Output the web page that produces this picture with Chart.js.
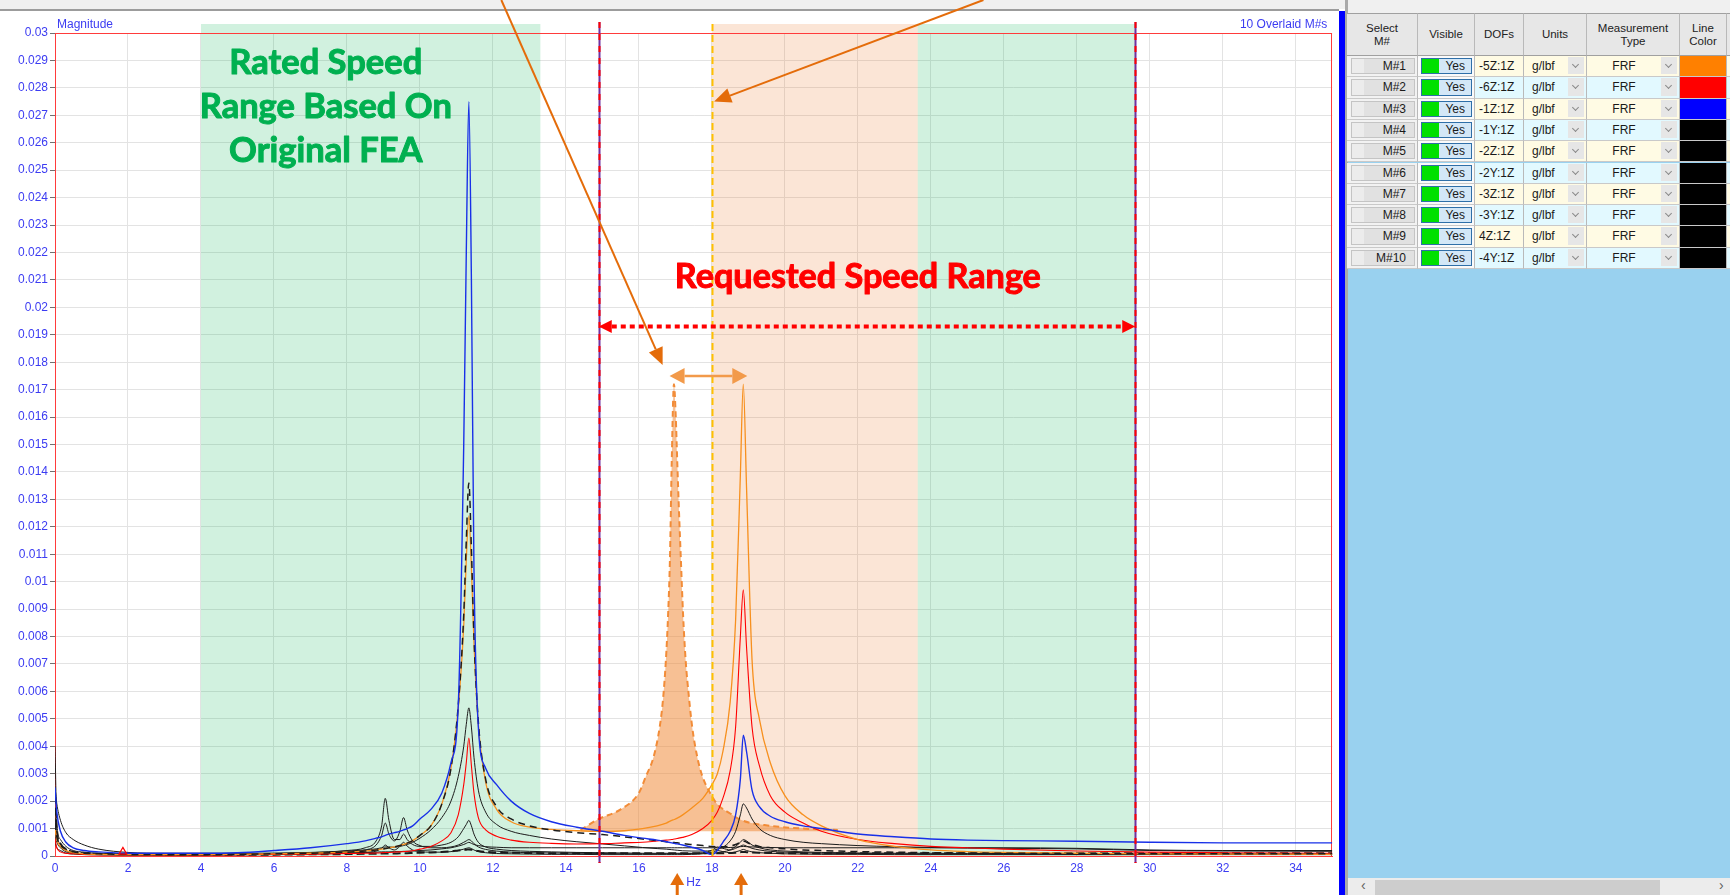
<!DOCTYPE html>
<html lang="en">
<head>
<meta charset="utf-8">
<title>FRF Overlay – Speed Ranges</title>
<script src="https://cdn.jsdelivr.net/npm/chart.js@4.4.1/dist/chart.umd.min.js"></script>
<style>
  html, body { margin: 0; padding: 0; }
  body { width: 1730px; height: 895px; overflow: hidden; position: relative; background: #fff;
         font-family: "Liberation Sans", Arial, sans-serif; }
  .abs { position: absolute; box-sizing: border-box; }
  #topStrip { left: 0; top: 0; width: 1348px; height: 9px; background: #f0f0f0; }
  #topRule { left: 0; top: 9px; width: 1339px; height: 2px; background: #9c9c9c; }
  #plot { position: absolute; left: 0; top: 0; }
  #blueBar { left: 1339px; top: 11px; width: 6px; height: 884px; background: #0000ff; }
  #splitter { left: 1345px; top: 0; width: 3px; height: 895px; background: #a9a9a9; }
  #panel { left: 1348px; top: 0; width: 382px; height: 895px; background: #99d1ef; }
  #panelTop { left: 1348px; top: 0; width: 382px; height: 13px; background: #f0f0f0; }
  .cell { position: absolute; box-sizing: border-box; border-right: 1px solid #b9b9b9; border-bottom: 1px solid #c9c9c9;
          font-size: 12px; color: #1a1a1a; overflow: hidden; white-space: nowrap; }
  .hdr { background: #e7e7e7; display: flex; align-items: center; justify-content: center; text-align: center;
         font-size: 11.5px; line-height: 13px; color: #222; border-top: 1px solid #a0a0a0; border-bottom: 1px solid #a0a0a0; }
  .btn { position: absolute; left: 4px; right: 2px; top: 2px; bottom: 2px; background: #e1e1e1; border: 1px solid #c4c4c4;
         text-align: right; padding-right: 8px; line-height: 15px; }
  .btn::before { content: ""; position: absolute; left: 0; top: 0; bottom: 0; width: 12px; background: #ececec; }
  .vis { position: absolute; left: 3px; right: 2px; top: 2px; bottom: 2px; background: #d3e7f7; border: 1px solid #2f6fa8;
         text-align: right; padding-right: 6px; line-height: 15px; }
  .vis span.on { position: absolute; left: 0; top: 0; bottom: 0; width: 17px; background: #00e000; }
  .txt { position: absolute; top: 0; bottom: 0; line-height: 20px; }
  .dd { position: absolute; right: 2px; top: 1px; bottom: 2px; width: 16px; background: #e6e6e6; }
  .dd::after { content: ""; position: absolute; left: 5px; top: 5px; width: 4px; height: 4px;
               border-right: 1px solid #8a8a8a; border-bottom: 1px solid #8a8a8a; transform: rotate(45deg); }
  #scroll { left: 1348px; top: 878px; width: 382px; height: 17px; background: #ececec; }
  #thumb { left: 1375px; top: 880px; width: 285px; height: 15px; background: #cdcdcd; }
  .arr { position: absolute; top: 877px; font-size: 14px; color: #606060; line-height: 17px; }
</style>
</head>
<body>
<div id="topStrip" class="abs"></div>
<div id="topRule" class="abs"></div>
<canvas id="plot" width="1338" height="895"></canvas>
<div id="blueBar" class="abs"></div>
<div id="splitter" class="abs"></div>
<div id="panel" class="abs"></div>
<div id="panelTop" class="abs"></div>
<div id="table"></div>
<div id="scroll" class="abs"></div>
<div id="thumb" class="abs"></div>
<div class="arr" style="left:1361px">&lsaquo;</div>
<div class="arr" style="left:1719px">&rsaquo;</div>

<script>
// ---------------------------------------------------------------
// Measured FRF magnitudes, in units of 1e-3 g/lbf
// ---------------------------------------------------------------
const MILLI = 1e-3;

const freqHz = [
  0, 0.05, 0.15, 0.3, 0.5, 0.8, 1.2, 2, 3, 4, 5, 6, 7, 8, 8.5,
  8.8, 8.95, 9.05, 9.15, 9.3, 9.45, 9.55, 9.65, 9.8, 10, 10.3, 10.6, 10.85, 11.05, 11.2,
  11.27, 11.34, 11.41, 11.48, 11.6, 11.8, 12.1, 12.5, 13, 13.6, 14.3, 15, 15.6, 16.1, 16.5,
  16.75, 16.9, 16.97, 17.05, 17.2, 17.45, 17.75, 18, 18.15, 18.3, 18.5, 18.65, 18.78, 18.86, 18.95,
  19.1, 19.3, 19.6, 20, 20.5, 21, 22, 23, 24, 25, 26, 28, 30, 32, 35
];

const magM1 = [
  1.0, 0.6, 0.35, 0.2, 0.12, 0.08, 0.06, 0.05, 0.05, 0.05, 0.06, 0.08, 0.1, 0.14, 0.18,
  0.22, 0.25, 0.27, 0.3, 0.33, 0.38, 0.42, 0.47, 0.56, 0.75, 1.1, 1.9, 3.2, 5.4, 8.4,
  10.8, 12.4, 10.5, 7.8, 4.8, 2.7, 1.7, 1.25, 1.05, 0.97, 0.92, 0.9, 0.92, 1.0, 1.1,
  1.2, 1.3, 1.33, 1.38, 1.5, 1.75, 2.1, 2.6, 3.0, 3.8, 5.6, 8.6, 13.9, 17.2, 13.4,
  7.15, 5.0, 3.4, 2.2, 1.5, 1.1, 0.6, 0.35, 0.22, 0.16, 0.13, 0.1, 0.08, 0.07, 0.06
];
const magM2 = [
  0.6, 0.3, 0.15, 0.1, 0.08, 0.06, 0.05, 0.05, 0.05, 0.05, 0.05, 0.06, 0.07, 0.09, 0.1,
  0.11, 0.12, 0.13, 0.13, 0.14, 0.15, 0.16, 0.17, 0.19, 0.25, 0.35, 0.55, 0.85, 1.5, 2.6,
  3.4, 4.3, 3.3, 2.3, 1.4, 0.95, 0.72, 0.58, 0.5, 0.46, 0.44, 0.45, 0.48, 0.5, 0.55,
  0.58, 0.6, 0.62, 0.64, 0.68, 0.78, 1.0, 1.3, 1.6, 2.1, 3.1, 4.7, 8.0, 9.7, 7.6,
  4.7, 3.3, 2.2, 1.6, 1.2, 0.9, 0.6, 0.45, 0.35, 0.3, 0.25, 0.18, 0.14, 0.12, 0.1
];
const magM3 = [
  2.5, 1.6, 0.9, 0.5, 0.3, 0.2, 0.15, 0.1, 0.1, 0.1, 0.12, 0.2, 0.3, 0.45, 0.55,
  0.65, 0.7, 0.75, 0.8, 0.85, 0.9, 0.95, 1.0, 1.1, 1.35, 1.7, 2.3, 3.4, 5.5, 15,
  22, 27.5, 21, 10.5, 4.7, 3.2, 2.6, 2.0, 1.55, 1.25, 1.05, 0.9, 0.75, 0.65, 0.58,
  0.52, 0.48, 0.46, 0.44, 0.4, 0.32, 0.2, 0.05, 0.2, 0.5, 0.9, 1.5, 2.8, 4.4, 3.8,
  2.4, 1.8, 1.45, 1.25, 1.1, 1.0, 0.8, 0.7, 0.62, 0.58, 0.56, 0.54, 0.5, 0.48, 0.48
];
const magM4 = [
  1.2, 0.7, 0.4, 0.25, 0.15, 0.1, 0.08, 0.06, 0.05, 0.05, 0.06, 0.08, 0.1, 0.14, 0.18,
  0.22, 0.25, 0.27, 0.3, 0.33, 0.38, 0.42, 0.47, 0.56, 0.75, 1.1, 1.9, 3.2, 5.5, 8.8,
  11.5, 13.6, 11.2, 8.0, 4.9, 2.8, 1.8, 1.35, 1.1, 0.95, 0.85, 0.78, 0.7, 0.62, 0.56,
  0.52, 0.5, 0.49, 0.48, 0.45, 0.42, 0.38, 0.35, 0.34, 0.34, 0.36, 0.42, 0.5, 0.55, 0.5,
  0.42, 0.35, 0.3, 0.26, 0.22, 0.2, 0.16, 0.14, 0.12, 0.11, 0.1, 0.09, 0.08, 0.08, 0.08
];
const magM5 = [
  4.0, 1.2, 0.6, 0.35, 0.2, 0.14, 0.1, 0.08, 0.07, 0.07, 0.08, 0.1, 0.13, 0.18, 0.22,
  0.26, 0.3, 0.33, 0.33, 0.32, 0.35, 0.38, 0.42, 0.5, 0.65, 0.95, 1.4, 2.0, 2.9, 4.0,
  4.8, 5.4, 4.7, 3.6, 2.4, 1.6, 1.15, 0.9, 0.75, 0.62, 0.52, 0.44, 0.37, 0.31, 0.27,
  0.25, 0.23, 0.22, 0.21, 0.19, 0.18, 0.18, 0.2, 0.25, 0.32, 0.55, 0.9, 1.5, 1.9, 1.75,
  1.35, 1.0, 0.75, 0.6, 0.5, 0.45, 0.38, 0.34, 0.31, 0.29, 0.28, 0.26, 0.2, 0.18, 0.17
];
const magM6 = [
  1.5, 0.8, 0.4, 0.2, 0.12, 0.08, 0.06, 0.05, 0.05, 0.05, 0.06, 0.08, 0.12, 0.2, 0.3,
  0.55, 1.1, 2.1, 1.3, 0.6, 0.6, 0.8, 0.6, 0.42, 0.35, 0.35, 0.4, 0.5, 0.7, 1.0,
  1.15, 1.3, 1.1, 0.8, 0.5, 0.33, 0.25, 0.2, 0.17, 0.15, 0.13, 0.12, 0.11, 0.1, 0.1,
  0.1, 0.1, 0.1, 0.1, 0.1, 0.1, 0.1, 0.1, 0.12, 0.15, 0.22, 0.35, 0.5, 0.6, 0.55,
  0.4, 0.3, 0.22, 0.18, 0.15, 0.13, 0.11, 0.1, 0.1, 0.09, 0.09, 0.08, 0.08, 0.08, 0.08
];
const magM7 = [
  0.8, 0.5, 0.3, 0.15, 0.1, 0.07, 0.05, 0.04, 0.04, 0.04, 0.05, 0.07, 0.1, 0.15, 0.22,
  0.4, 0.75, 1.2, 0.8, 0.55, 0.9, 1.4, 0.95, 0.55, 0.38, 0.3, 0.3, 0.33, 0.4, 0.5,
  0.55, 0.6, 0.55, 0.45, 0.33, 0.24, 0.18, 0.14, 0.12, 0.11, 0.1, 0.09, 0.08, 0.08, 0.08,
  0.08, 0.08, 0.08, 0.08, 0.08, 0.09, 0.12, 0.2, 0.33, 0.28, 0.22, 0.28, 0.36, 0.4, 0.36,
  0.28, 0.22, 0.17, 0.14, 0.12, 0.1, 0.09, 0.08, 0.07, 0.07, 0.07, 0.06, 0.06, 0.06, 0.06
];
const magM8 = [
  0.5, 0.3, 0.2, 0.1, 0.07, 0.05, 0.04, 0.03, 0.03, 0.03, 0.04, 0.05, 0.07, 0.1, 0.13,
  0.18, 0.28, 0.4, 0.3, 0.22, 0.35, 0.5, 0.36, 0.22, 0.16, 0.14, 0.14, 0.16, 0.2, 0.25,
  0.28, 0.3, 0.27, 0.22, 0.16, 0.12, 0.09, 0.08, 0.07, 0.06, 0.06, 0.05, 0.05, 0.05, 0.05,
  0.05, 0.05, 0.05, 0.05, 0.05, 0.06, 0.08, 0.12, 0.2, 0.16, 0.12, 0.15, 0.2, 0.24, 0.2,
  0.15, 0.12, 0.1, 0.08, 0.07, 0.06, 0.06, 0.05, 0.05, 0.05, 0.05, 0.05, 0.05, 0.05, 0.05
];
const magM9 = [
  2.2, 0.9, 0.45, 0.25, 0.15, 0.1, 0.08, 0.06, 0.05, 0.05, 0.05, 0.05, 0.06, 0.07, 0.08,
  0.08, 0.09, 0.09, 0.09, 0.09, 0.1, 0.1, 0.1, 0.11, 0.12, 0.13, 0.15, 0.17, 0.2, 0.22,
  0.23, 0.24, 0.23, 0.21, 0.18, 0.15, 0.13, 0.12, 0.11, 0.1, 0.1, 0.1, 0.1, 0.1, 0.1,
  0.1, 0.1, 0.1, 0.1, 0.1, 0.1, 0.1, 0.1, 0.1, 0.1, 0.11, 0.12, 0.14, 0.15, 0.14,
  0.13, 0.12, 0.11, 0.1, 0.1, 0.1, 0.1, 0.1, 0.1, 0.1, 0.1, 0.1, 0.1, 0.1, 0.1
];
const magM10 = [
  2.5, 1.9, 1.3, 0.85, 0.6, 0.4, 0.25, 0.13, 0.1, 0.1, 0.1, 0.1, 0.11, 0.12, 0.13,
  0.14, 0.15, 0.15, 0.15, 0.16, 0.16, 0.17, 0.17, 0.18, 0.2, 0.22, 0.26, 0.3, 0.36, 0.42,
  0.46, 0.5, 0.46, 0.42, 0.38, 0.34, 0.32, 0.3, 0.3, 0.3, 0.3, 0.3, 0.3, 0.3, 0.3,
  0.3, 0.3, 0.3, 0.3, 0.3, 0.3, 0.3, 0.3, 0.3, 0.3, 0.31, 0.32, 0.34, 0.35, 0.34,
  0.33, 0.32, 0.31, 0.3, 0.3, 0.3, 0.3, 0.3, 0.3, 0.3, 0.3, 0.28, 0.22, 0.2, 0.2
];

// Original-FEA mode, shifted to its predicted frequency (shaded, dashed)
const shiftedModeHz  = [14.4, 14.9, 15.5, 16.0, 16.19, 16.4, 16.57, 16.66, 16.74, 16.8, 16.85, 16.9, 16.96,
                        17.01, 17.05, 17.1, 17.15, 17.21, 17.28, 17.37, 17.46, 17.6, 17.74, 17.95, 18.14,
                        18.5, 18.82, 19.6, 20.5, 21.45];
const shiftedModeMag = [0.95, 1.35, 1.7, 2.3, 2.9, 3.6, 4.7, 5.7, 7.15, 8.8, 10.8, 14.4, 17.2,
                        16.0, 14.4, 12.5, 10.8, 8.8, 7.15, 5.8, 4.7, 3.6, 2.9, 2.3, 1.9,
                        1.55, 1.3, 1.1, 1.0, 0.95];
const shiftedModeBase = 0.9;

// Cursor marker
const cursorHz  = [1.86];
const cursorMag = [0.15];

// Axis ticks
const xTickLabels = ['0','2','4','6','8','10','12','14','16','18','20','22','24','26','28','30','32','34'];
const yTickLabels = ['0','0.001','0.002','0.003','0.004','0.005','0.006','0.007','0.008','0.009',
                     '0.01','0.011','0.012','0.013','0.014','0.015','0.016','0.017','0.018','0.019',
                     '0.02','0.021','0.022','0.023','0.024','0.025','0.026','0.027','0.028','0.029','0.03'];
const xTickValues = xTickLabels.map(Number);
const yTickValues = yTickLabels.map(Number);

// Speed ranges (Hz)
const ratedRangeHz     = [4.0, 13.3];
const requestedRangeHz = [14.9, 29.6];
const shiftedBandHz    = [18.0, 23.64];
const upperRatedHz     = [23.64, 29.6];
const shiftedModeLineHz = 18.0;

// Measurement table
const measIds    = ['M#1','M#2','M#3','M#4','M#5','M#6','M#7','M#8','M#9','M#10'];
const dofLabels  = ['-5Z:1Z','-6Z:1Z','-1Z:1Z','-1Y:1Z','-2Z:1Z','-2Y:1Z','-3Z:1Z','-3Y:1Z','4Z:1Z','-4Y:1Z'];
const unitLabels = ['g/lbf','g/lbf','g/lbf','g/lbf','g/lbf','g/lbf','g/lbf','g/lbf','g/lbf','g/lbf'];
const measTypes  = ['FRF','FRF','FRF','FRF','FRF','FRF','FRF','FRF','FRF','FRF'];
const lineColors = ['#ff8000','#ff0000','#0000ff','#000000','#000000','#000000','#000000','#000000','#000000','#000000'];

const seriesMag = [magM1, magM2, magM3, magM4, magM5, magM6, magM7, magM8, magM9, magM10];

// ---------------------------------------------------------------
// Measurement table panel
// ---------------------------------------------------------------
(function buildTable() {
  const host = document.getElementById('table');
  const edges = [1347, 1418, 1475, 1524, 1587, 1680, 1727, 1731];
  const top = 13, hdrH = 43, rowH = 21.3;
  const headers = ['Select<br>M#', 'Visible', 'DOFs', 'Units', 'Measurement<br>Type', 'Line<br>Color', ''];
  const add = (cls, x, y, w, h, bg, html) => {
    const d = document.createElement('div');
    d.className = cls;
    d.style.left = x + 'px'; d.style.top = y + 'px';
    d.style.width = w + 'px'; d.style.height = h + 'px';
    if (bg) d.style.background = bg;
    if (html) d.innerHTML = html;
    host.appendChild(d);
    return d;
  };
  for (let c = 0; c < headers.length; c++) {
    add('cell hdr', edges[c], top, edges[c + 1] - edges[c], hdrH, null, headers[c]);
  }
  for (let r = 0; r < measIds.length; r++) {
    const y = top + hdrH + r * rowH;
    const alt = r % 2 === 0 ? '#fffbe4' : '#e2f9ff';
    const w = c => edges[c + 1] - edges[c];
    add('cell', edges[0], y, w(0), rowH, '#f2f2f2', `<div class="btn">${measIds[r]}</div>`);
    add('cell', edges[1], y, w(1), rowH, '#fafafa', `<div class="vis"><span class="on"></span>Yes</div>`);
    add('cell', edges[2], y, w(2), rowH, alt, `<div class="txt" style="left:4px">${dofLabels[r]}</div>`);
    add('cell', edges[3], y, w(3), rowH, alt, `<div class="txt" style="left:8px">${unitLabels[r]}</div><div class="dd"></div>`);
    add('cell', edges[4], y, w(4), rowH, alt, `<div class="txt" style="left:0;right:18px;text-align:center">${measTypes[r]}</div><div class="dd"></div>`);
    add('cell', edges[5], y, w(5), rowH, lineColors[r], '');
    add('cell', edges[6], y, w(6), rowH, alt, '');
  }
})();

// ---------------------------------------------------------------
// Chart
// ---------------------------------------------------------------
const AXIS_BLUE = '#3c3cf2';
const FRAME_RED = '#ff3b3b';
Chart.defaults.font.family = '"Liberation Sans", Arial, sans-serif';

const toPoints = (xs, ys) => xs.map((x, i) => ({ x, y: ys[i] * MILLI }));

const traceStyles = [
  { order: 3, width: 1.3, color: '#f7901e' },
  { order: 4, width: 1.1 },
  { order: 1, width: 1.4, color: '#1830e8' },
  { order: 2, width: 1.5, dash: [7, 5] },
  { order: 5, width: 1.0 },
  { order: 6, width: 1.0 },
  { order: 7, width: 1.0 },
  { order: 8, width: 1.0 },
  { order: 9, width: 2.0, dash: [8, 4] },
  { order: 9, width: 1.0 }
];

const datasets = seriesMag.map((mag, i) => ({
  label: measIds[i],
  data: toPoints(freqHz, mag),
  borderColor: traceStyles[i].color || (i >= 3 ? '#1c1c1c' : lineColors[i]),
  borderWidth: traceStyles[i].width,
  borderDash: traceStyles[i].dash || [],
  pointRadius: 0,
  fill: false,
  cubicInterpolationMode: 'monotone',
  order: traceStyles[i].order
}));

datasets.push({
  label: 'Original FEA mode',
  data: toPoints(shiftedModeHz, shiftedModeMag),
  borderColor: '#f28c38',
  borderWidth: 2,
  borderDash: [6, 4],
  backgroundColor: 'rgba(240,140,60,0.55)',
  fill: { value: shiftedModeBase * MILLI },
  pointRadius: 0,
  cubicInterpolationMode: 'monotone',
  order: 12
});

datasets.push({
  label: 'Cursor',
  data: toPoints(cursorHz, cursorMag),
  showLine: false,
  pointStyle: 'triangle',
  pointRadius: 4.5,
  borderColor: '#ff0000',
  borderWidth: 1.2,
  backgroundColor: 'rgba(255,255,255,0)',
  order: 0
});

function arrowHead(ctx, tx, ty, fx, fy, len, half, color) {
  const a = Math.atan2(ty - fy, tx - fx);
  const bx = tx - len * Math.cos(a), by = ty - len * Math.sin(a);
  ctx.fillStyle = color;
  ctx.beginPath();
  ctx.moveTo(tx, ty);
  ctx.lineTo(bx + half * Math.sin(a), by - half * Math.cos(a));
  ctx.lineTo(bx - half * Math.sin(a), by + half * Math.cos(a));
  ctx.closePath();
  ctx.fill();
  return [bx, by];
}

function fitFontSize(ctx, text, width, font) {
  ctx.font = `700 100px ${font}`;
  return 100 * width / ctx.measureText(text).width;
}

// Heavy caption text (fill plus a thin outline of the same colour)
function boldCaption(ctx, text, x, y, color) {
  ctx.fillStyle = color;
  ctx.strokeStyle = color;
  ctx.lineWidth = 1;
  ctx.lineJoin = 'round';
  ctx.fillText(text, x, y);
  ctx.strokeText(text, x, y);
}

// Shaded speed ranges and the plot frame
const rangeBands = {
  id: 'rangeBands',
  beforeDatasetsDraw(chart) {
    const { ctx, chartArea: a, scales: { x } } = chart;
    const bandTop = a.top - 9;
    const bands = [
      [ratedRangeHz, 'rgba(0,176,80,0.18)'],
      [shiftedBandHz, 'rgba(237,125,49,0.2)'],
      [upperRatedHz, 'rgba(0,176,80,0.18)']
    ];
    ctx.save();
    for (const [r, col] of bands) {
      const x1 = x.getPixelForValue(r[0]), x2 = x.getPixelForValue(r[1]);
      ctx.fillStyle = col;
      ctx.fillRect(x1, bandTop, x2 - x1, a.bottom - bandTop);
    }
    ctx.strokeStyle = FRAME_RED;
    ctx.lineWidth = 1;
    ctx.strokeRect(Math.round(a.left) + 0.5, Math.round(a.top) + 0.5,
                   Math.round(a.right - a.left) - 1, Math.round(a.bottom - a.top));
    ctx.fillStyle = AXIS_BLUE;
    ctx.font = '12px "Liberation Sans", Arial, sans-serif';
    ctx.textBaseline = 'middle';
    ctx.textAlign = 'left';
    ctx.fillText('Magnitude', a.left + 2, a.top - 8);
    ctx.textAlign = 'right';
    ctx.fillText('10 Overlaid M#s', a.right - 5, a.top - 8);
    ctx.restore();
  }
};

// Range markers, arrows and captions
const speedNotes = {
  id: 'speedNotes',
  afterDatasetsDraw(chart) {
    const { ctx, chartArea: a, scales: { x, y } } = chart;
    const X = v => x.getPixelForValue(v), Y = v => y.getPixelForValue(v);
    ctx.save();

    // requested speed range limits
    for (const hz of requestedRangeHz) {
      const px = Math.round(X(hz)) + 0.5;
      ctx.lineWidth = 2;
      ctx.setLineDash([]);
      ctx.strokeStyle = '#7030a0';
      ctx.beginPath(); ctx.moveTo(px, a.top - 11); ctx.lineTo(px, a.bottom + 7); ctx.stroke();
      ctx.setLineDash([6, 6]);
      ctx.strokeStyle = '#ff0000';
      ctx.stroke();
    }

    // shifted-mode reference line
    const yl = Math.round(X(shiftedModeLineHz)) + 0.5;
    ctx.setLineDash([7, 4]);
    ctx.strokeStyle = '#ffc000';
    ctx.lineWidth = 2;
    ctx.beginPath(); ctx.moveTo(yl, a.top - 9); ctx.lineTo(yl, a.bottom); ctx.stroke();
    ctx.setLineDash([]);

    // red dotted double arrow across the requested range
    const ry = Y(0.0193);
    const rl = X(requestedRangeHz[0]), rr = X(requestedRangeHz[1]);
    const [lb] = arrowHead(ctx, rl, ry, rr, ry, 13, 6.5, '#ff0000');
    const [rb] = arrowHead(ctx, rr, ry, rl, ry, 13, 6.5, '#ff0000');
    ctx.strokeStyle = '#ff0000';
    ctx.lineWidth = 4;
    ctx.setLineDash([5, 4]);
    ctx.beginPath(); ctx.moveTo(lb, ry); ctx.lineTo(rb, ry); ctx.stroke();
    ctx.setLineDash([]);

    // frequency shift between the two modes
    const oy = Y(0.0175);
    const ol = X(16.84), or = X(18.97);
    const [olb] = arrowHead(ctx, ol, oy, or, oy, 15, 8, '#f29a4a');
    const [orb] = arrowHead(ctx, or, oy, ol, oy, 15, 8, '#f29a4a');
    ctx.strokeStyle = '#f29a4a';
    ctx.lineWidth = 2.5;
    ctx.beginPath(); ctx.moveTo(olb, oy); ctx.lineTo(orb, oy); ctx.stroke();

    // callout pointers from the top
    const pointers = [
      [12.23, 16.65, 0.0179],
      [25.44, 18.06, 0.0275]
    ];
    ctx.strokeStyle = '#e46c0a';
    ctx.lineWidth = 2;
    for (const [tailHz, tipHz, tipMag] of pointers) {
      const tx = X(tipHz), ty = Y(tipMag), fx = X(tailHz), fy = 0;
      const [bx, by] = arrowHead(ctx, tx, ty, fx, fy, 17, 7.5, '#e46c0a');
      ctx.beginPath(); ctx.moveTo(fx, fy); ctx.lineTo(bx, by); ctx.stroke();
    }

    // mode markers under the frequency axis
    for (const hz of [17.05, 18.8]) {
      const px = X(hz), tip = a.bottom + 17;
      const [, by] = arrowHead(ctx, px, tip, px, chart.height, 12, 7, '#e46c0a');
      ctx.fillRect(px - 1.5, by, 3, chart.height - by);
    }

    // captions
    const font = 'Lato, "Open Sans", sans-serif';
    const greenLines = ['Rated Speed', 'Range Based On', 'Original FEA'];
    const gSize = fitFontSize(ctx, greenLines[1], 252, font);
    ctx.font = `700 ${gSize.toFixed(1)}px ${font}`;
    ctx.textAlign = 'center';
    ctx.textBaseline = 'middle';
    const gx = X(7.42), gy = Y(0.0289);
    greenLines.forEach((t, i) => boldCaption(ctx, t, gx, gy + i * 44, '#00b050'));

    const redText = 'Requested Speed Range';
    const rSize = fitFontSize(ctx, redText, 366, font);
    ctx.font = `700 ${rSize.toFixed(1)}px ${font}`;
    boldCaption(ctx, redText, X(22.0), Y(0.0211), '#ff0000');

    ctx.restore();
  }
};

new Chart(document.getElementById('plot'), {
  type: 'line',
  data: { datasets },
  options: {
    responsive: false,
    animation: false,
    devicePixelRatio: 1,
    layout: { padding: { top: 33, right: 3, bottom: 0, left: 0 } },
    plugins: { legend: { display: false }, tooltip: { enabled: false } },
    scales: {
      x: {
        type: 'linear', min: 0, max: 35,
        afterBuildTicks: s => { s.ticks = xTickValues.map(v => ({ value: v })); },
        afterFit: s => { s.height = 39; },
        grid: { color: '#e3e3e3', drawTicks: false },
        border: { color: FRAME_RED, width: 1 },
        ticks: { color: AXIS_BLUE, font: { size: 12 }, padding: 5, maxRotation: 0, autoSkip: false,
                 callback: (v, i) => xTickLabels[i] },
        title: { display: true, text: 'Hz', color: AXIS_BLUE, font: { size: 12 }, padding: { top: 0, bottom: 5 } }
      },
      y: {
        type: 'linear', min: 0, max: 0.03,
        afterBuildTicks: s => { s.ticks = yTickValues.map(v => ({ value: v })); },
        afterFit: s => { s.width = 55; },
        grid: { color: '#e3e3e3', tickLength: 5, tickColor: '#707070' },
        border: { color: FRAME_RED, width: 1 },
        ticks: { color: AXIS_BLUE, font: { size: 12 }, padding: 2, autoSkip: false,
                 callback: (v, i) => yTickLabels[i] }
      }
    }
  },
  plugins: [rangeBands, speedNotes]
});
</script>
</body>
</html>
